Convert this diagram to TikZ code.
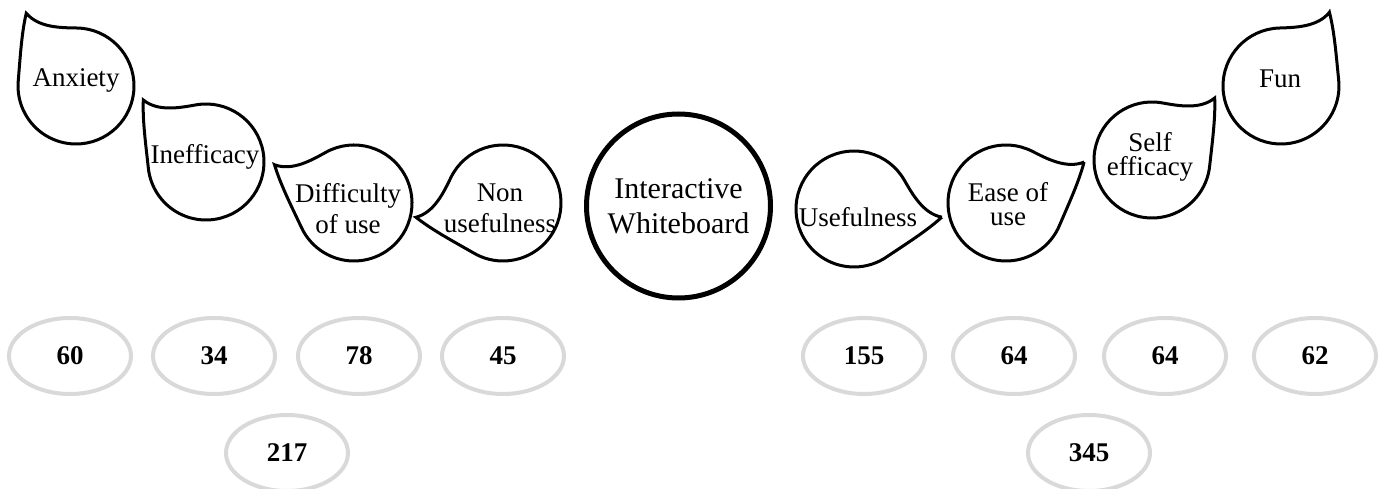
\documentclass[tikz,border=0pt]{standalone}
\usepackage{fontspec}
\setmainfont{Liberation Serif}
\usetikzlibrary{shapes.geometric}
\newcommand\droppath{(-62.7,62) .. controls (-48,50) and (-25.9,54.3) .. (-10.07,57.12) arc[start angle=100, end angle=-175, radius=58] .. controls (-60.5,19.8) and (-63.5,42) .. cycle}
\begin{document}
\begin{tikzpicture}[x=0.5pt,y=0.5pt,
  drop/.style={draw=black, line width=1.5pt, line join=miter},
  droptext/.style={font=\fontsize{13.5pt}{15.5pt}\selectfont, inner sep=0pt, align=center},
  tightdroptext/.style={font=\fontsize{13.5pt}{12pt}\selectfont, inner sep=0pt, align=center},
  hub/.style={circle, draw=black, line width=2.5pt, minimum size=92pt, inner sep=0pt, align=center, font=\fontsize{15pt}{17.5pt}\selectfont},
  count/.style={ellipse, draw=countgray, line width=2pt, minimum width=61pt, minimum height=38pt, inner sep=0pt, font=\fontsize{13.5pt}{16pt}\selectfont\bfseries}
]
\definecolor{countgray}{RGB}{217,217,217}
\useasboundingbox (0,0) rectangle (1383,488);

% teardrops, left side
\draw[drop, shift={(76,402)}, rotate=-11] \droppath;
\draw[drop, shift={(206,326)}, rotate=0] \droppath;
\draw[drop, shift={(354,285)}, rotate=19] \droppath;
\draw[drop, shift={(503,285)}, rotate=54] \droppath;
% teardrops, right side (mirrored)
\draw[drop, shift={(854,279)}, rotate=-50, xscale=-1] \droppath;
\draw[drop, shift={(1006,285)}, rotate=-17, xscale=-1] \droppath;
\draw[drop, shift={(1152,328)}, rotate=0, xscale=-1] \droppath;
\draw[drop, shift={(1281,402)}, rotate=12, xscale=-1] \droppath;

\node[droptext, anchor=base] (anx) at (76,401) {Anxiety};
\node[droptext, anchor=base] (ineff) at (205,324) {Inefficacy};
\node[droptext] (diff) at (348,279.7) {Difficulty\\of use};
\node[droptext] (nonuse) at (500,279.5) {Non\\usefulness};
\node[hub] (iwb) at (678.5,282) {Interactive\\Whiteboard};
\node[droptext, anchor=base] (use) at (858,261) {Usefulness};
\node[tightdroptext] (ease) at (1008,284) {Ease of\\use};
\node[tightdroptext] (self) at (1150,331) {Self\\efficacy};
\node[droptext, anchor=base] (fun) at (1280,400) {Fun};

% counts
\node[count] (c60) at (70,132) {60};
\node[count] (c34) at (214,132) {34};
\node[count] (c78) at (359,132) {78};
\node[count] (c45) at (503,132) {45};
\node[count] (c155) at (864,132) {155};
\node[count] (c64a) at (1014,132) {64};
\node[count] (c64b) at (1165,132) {64};
\node[count] (c62) at (1315,132) {62};
\node[count] (c217) at (287,35) {217};
\node[count] (c345) at (1089,35) {345};
\end{tikzpicture}
\end{document}
